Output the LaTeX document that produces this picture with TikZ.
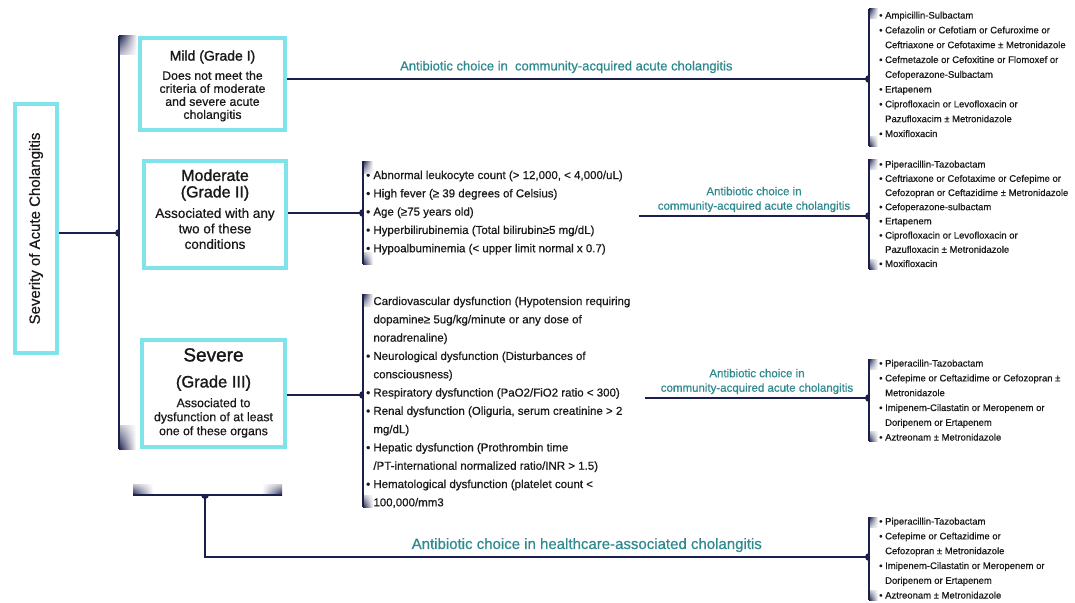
\documentclass[tikz,border=0pt]{standalone}
\usepackage{fontspec}
\setmainfont{Liberation Sans}[FakeBold=0.6]
\newfontfamily\headfont{Liberation Sans}[FakeBold=1.4]
\usetikzlibrary{positioning, calc, shadings}

\definecolor{navy}{HTML}{1B1F4B}
\definecolor{edgecyan}{HTML}{80E3EA}
\definecolor{labelteal}{HTML}{2E8A8E}

\newcommand{\lbul}{\textbullet\ }
\newcommand{\lcont}{\phantom{\textbullet\ }}

\begin{document}
\begin{tikzpicture}[
    x=1pt, y=-1pt,
    gradebox/.style={
        rectangle, draw=edgecyan, line width=4pt, fill=white
    },
    boxtitle/.style={align=center, inner sep=0pt, text=black!90},
    boxbody/.style={align=center, inner sep=0pt, text=black!90},
    crit/.style={
        anchor=north west, align=left, inner sep=0pt, text=black!90,
        font=\fontsize{11.5}{18.3}\selectfont
    },
    drugs/.style={
        anchor=north west, align=left, inner sep=0pt, text=black!90,
        font=\fontsize{9.5}{14.8}\selectfont
    },
    choice/.style={align=center, inner sep=0pt, text=labelteal},
    bar/.style={draw=navy, line width=2pt},
    link/.style={draw=navy, line width=1.8pt},
    knob/.style={fill=navy},
    capdown/.style={upper left=navy, upper right=white, lower left=navy!25, lower right=white},
    capup/.style={lower left=navy, lower right=white, upper left=navy!25, upper right=white},
    capupr/.style={lower right=navy, lower left=white, upper right=navy!25, upper left=white}
]

\path[use as bounding box, fill=white] (0,0) rectangle (1075,602);

% ---------------- Bars and junctions ----------------
\coordinate (mainbar top) at (119,36);
\coordinate (mainbar bottom) at (119,449);
\coordinate (k0) at (119,233);
\coordinate (modbar top) at (363,161);
\coordinate (modbar bottom) at (363,264);
\coordinate (kM) at (363,213);
\coordinate (sevbar top) at (363,294);
\coordinate (sevbar bottom) at (363,507);
\coordinate (kS) at (363,395);
\coordinate (barA top) at (869,9);
\coordinate (barA bottom) at (869,146);
\coordinate (kA) at (869,79);
\coordinate (barB top) at (869,159);
\coordinate (barB bottom) at (869,269);
\coordinate (kB) at (869,216);
\coordinate (barC top) at (869,359);
\coordinate (barC bottom) at (869,441);
\coordinate (kC) at (869,398);
\coordinate (barD top) at (869,517);
\coordinate (barD bottom) at (869,600);
\coordinate (kD) at (869,557);
\coordinate (hcbar left) at (133,495);
\coordinate (hcbar right) at (282,495);
\coordinate (kH) at (205,495);
\coordinate (modout) at (639,216);
\coordinate (sevout) at (645,398);

% ---------------- Root ----------------
\node[gradebox, minimum width=42, minimum height=249, text=black!90,
      font=\fontsize{15}{18}\selectfont] (severity) at (36,228.5)
      {\rotatebox{90}{Severity of Acute Cholangitis}};

% ---------------- Grades ----------------
\node[gradebox, minimum width=145, minimum height=92] (mild) at (212.5,84) {};
\node[boxtitle, font=\headfont\fontsize{14}{17}\selectfont] (mildtitle) at (212.5,57) {Mild (Grade I)};
\node[boxbody, font=\fontsize{12.3}{13}\selectfont, below=7pt of mildtitle] (mildtext)
    {Does not meet the\\criteria of moderate\\and severe acute\\cholangitis};

\node[gradebox, minimum width=142, minimum height=107] (moderate) at (215,214.5) {};
\node[boxtitle, font=\headfont\fontsize{16}{16.5}\selectfont] (modtitle) at (215,185) {Moderate\\(Grade II)};
\node[boxbody, font=\fontsize{13.5}{15.5}\selectfont, below=7pt of modtitle] (modtext)
    {Associated with any\\two of these\\conditions};

\node[gradebox, minimum width=143, minimum height=107] (severe) at (213.5,393) {};
\node[boxtitle, font=\headfont\fontsize{16.5}{26}\selectfont] (sevtitle) at (213.5,369.5)
    {{\fontsize{19}{20}\selectfont Severe}\\(Grade III)};
\node[boxbody, font=\fontsize{12.3}{14}\selectfont, below=7pt of sevtitle] (sevtext)
    {Associated to\\dysfunction of at least\\one of these organs};

% ---------------- Criteria ----------------
\node[crit] (modcrit) at (366,170.5) {\lbul Abnormal leukocyte count (> 12,000, < 4,000/uL)\\\lbul High fever (≥ 39 degrees of Celsius)\\\lbul Age (≥75 years old)\\\lbul Hyperbilirubinemia (Total bilirubin≥5 mg/dL)\\\lbul Hypoalbuminemia (< upper limit normal x 0.7)};

\node[crit] (sevcrit) at (366,296.5) {\lbul Cardiovascular dysfunction (Hypotension requiring\\\lcont dopamine≥ 5ug/kg/minute or any dose of\\\lcont noradrenaline)\\\lbul Neurological dysfunction (Disturbances of\\\lcont consciousness)\\\lbul Respiratory dysfunction (PaO2/FiO2 ratio < 300)\\\lbul Renal dysfunction (Oliguria, serum creatinine > 2\\\lcont mg/dL)\\\lbul Hepatic dysfunction (Prothrombin time\\\lcont /PT-international normalized ratio/INR > 1.5)\\\lbul Hematological dysfunction (platelet count <\\\lcont 100,000/mm3};

% ---------------- Antibiotics ----------------
\node[drugs] (drugsA) at (879,11.5) {\lbul Ampicillin-Sulbactam\\\lbul Cefazolin or Cefotiam or Cefuroxime or\\\lcont Ceftriaxone or Cefotaxime ± Metronidazole\\\lbul Cefmetazole or Cefoxitine or Flomoxef or\\\lcont Cefoperazone-Sulbactam\\\lbul Ertapenem\\\lbul Ciprofloxacin or Levofloxacin or\\\lcont Pazufloxacim ± Metronidazole\\\lbul Moxifloxacin};

\node[drugs, font=\fontsize{9.5}{14.2}\selectfont] (drugsB) at (879,160.5) {\lbul Piperacillin-Tazobactam\\\lbul Ceftriaxone or Cefotaxime or Cefepime or\\\lcont Cefozopran or Ceftazidime ± Metronidazole\\\lbul Cefoperazone-sulbactam\\\lbul Ertapenem\\\lbul Ciprofloxacin or Levofloxacin or\\\lcont Pazufloxacin ± Metronidazole\\\lbul Moxifloxacin};

\node[drugs] (drugsC) at (879,359.5) {\lbul Piperacilin-Tazobactam\\\lbul Cefepime or Ceftazidime or Cefozopran ±\\\lcont Metronidazole\\\lbul Imipenem-Cilastatin or Meropenem or\\\lcont Doripenem or Ertapenem\\\lbul Aztreonam ± Metronidazole};

\node[drugs] (drugsD) at (879,517.5) {\lbul Piperacillin-Tazobactam\\\lbul Cefepime or Ceftazidime or\\\lcont Cefozopran ± Metronidazole\\\lbul Imipenem-Cilastatin or Meropenem or\\\lcont Doripenem or Ertapenem\\\lbul Aztreonam ± Metronidazole};

% ---------------- Bracket caps ----------------
\shade[capdown] (mainbar top) rectangle ++(18,19);
\shade[capup] (mainbar bottom) rectangle ++(17,-24);
\shade[capdown] (modbar top) rectangle ++(10,12);
\shade[capup] (modbar bottom) rectangle ++(10,-12);
\shade[capdown] (sevbar top) rectangle ++(10,12);
\shade[capup] (sevbar bottom) rectangle ++(10,-12);
\foreach \b in {A,B,C,D}{
    \shade[capdown] (bar\b\space top) rectangle ++(9,10);
    \shade[capup] (bar\b\space bottom) rectangle ++(9,-10);
}
\shade[capup] (hcbar left) rectangle ++(20,-11);
\shade[capupr] (hcbar right) rectangle ++(-20,-11);

% ---------------- Bars ----------------
\draw[bar] (mainbar top) -- (mainbar bottom);
\draw[bar] (modbar top) -- (modbar bottom);
\draw[bar] (sevbar top) -- (sevbar bottom);
\foreach \b in {A,B,C,D}
    \draw[bar] (bar\b\space top) -- (bar\b\space bottom);
\draw[bar] (hcbar left) -- (hcbar right);

% ---------------- Links ----------------
\draw[link] (severity.east |- k0) -- (k0);
\draw[link] (mild.east |- kA) -- (kA)
    node[choice, pos=0.48, above=5pt, font=\fontsize{13}{15}\selectfont] (mildchoice)
    {Antibiotic choice in\ \ community-acquired acute cholangitis};
\draw[link] (moderate.east |- kM) -- (kM);
\draw[link] (modout) -- (kB)
    node[choice, midway, above=3pt, font=\fontsize{11.5}{14.5}\selectfont] (modchoice)
    {Antibiotic choice in\\community-acquired acute cholangitis};
\draw[link] (severe.east |- kS) -- (kS);
\draw[link] (sevout) -- (kC)
    node[choice, midway, above=3pt, font=\fontsize{11.5}{14.5}\selectfont] (sevchoice)
    {Antibiotic choice in\\community-acquired acute cholangitis};
\coordinate (hcturn) at (kH |- kD);
\draw[link] (kH) -- (hcturn) -- (kD)
    node[choice, pos=0.575, above=4pt, font=\fontsize{15}{18}\selectfont] (hcchoice)
    {Antibiotic choice in healthcare-associated cholangitis};

% ---------------- Junction knobs ----------------
\foreach \k in {k0,kM,kS,kA,kB,kC,kD}
    \fill[knob] (\k) ++(0,4) arc[start angle=90, end angle=270, radius=4] -- cycle;
\fill[knob] (kH) ++(4,0) arc[start angle=0, end angle=180, radius=4] -- cycle;

\end{tikzpicture}
\end{document}
